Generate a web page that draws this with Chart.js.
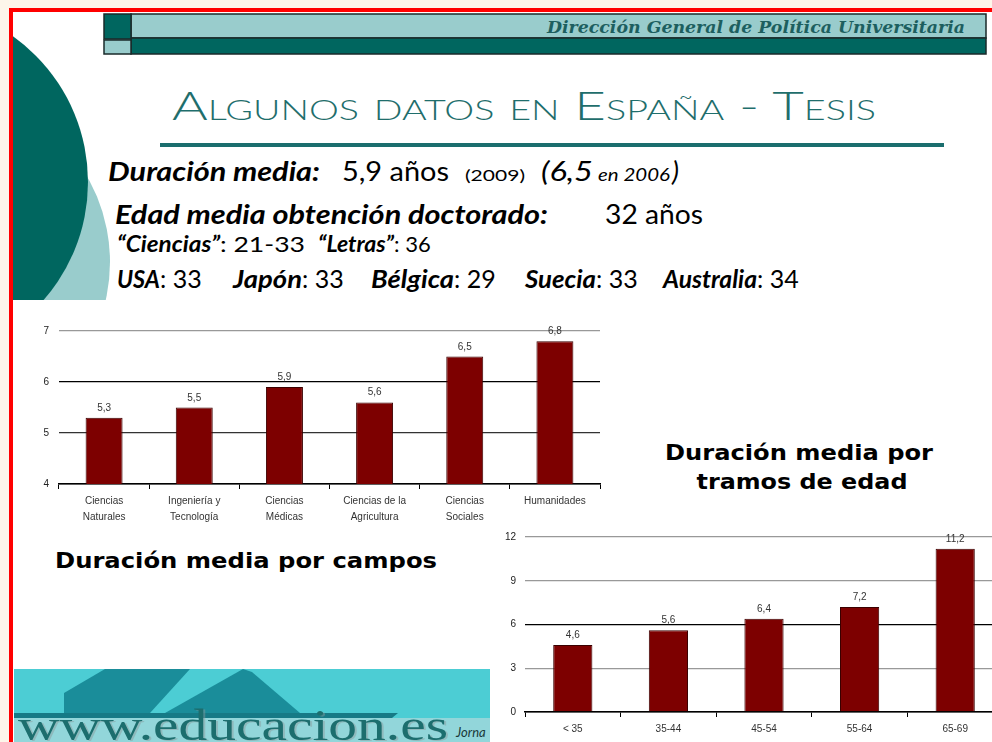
<!DOCTYPE html>
<html>
<head>
<meta charset="utf-8">
<script src="https://cdn.jsdelivr.net/npm/chart.js@4.4.0/dist/chart.umd.min.js"></script>
<style>
  html, body { margin: 0; padding: 0; width: 992px; height: 742px; overflow: hidden; background: #fdf6ea; }
  #slide { position: absolute; left: 9px; top: 8px; width: 1100px; height: 900px; border: 4px solid #ff0000; background: #fff; box-sizing: border-box; }
  svg#deco { position: absolute; left: 0; top: 0; }
  canvas { position: absolute; }
  #graficoCampos { left: 20px; top: 315px; }
  #graficoTramos { left: 490px; top: 522px; }
</style>
</head>
<body>
<div id="slide"></div>

<svg id="deco" width="992" height="742" xmlns="http://www.w3.org/2000/svg">
  <defs>
    <clipPath id="recorteCirculos"><rect x="13" y="12" width="200" height="288"/></clipPath>
  </defs>
  <!-- circulos de la izquierda -->
  <g clip-path="url(#recorteCirculos)">
    <circle cx="-61" cy="262" r="171" fill="#99cccc"/>
    <circle cx="-91" cy="182" r="179" fill="#00665f"/>
  </g>

  <!-- cabecera -->
  <rect x="131" y="14" width="855" height="24" fill="#99cccc" stroke="#1a2a2a" stroke-width="1.5"/>
  <rect x="131" y="38" width="855" height="16" fill="#00665f" stroke="#1a2a2a" stroke-width="1.5"/>
  <rect x="104" y="14" width="27" height="25" fill="#00665f" stroke="#1a2a2a" stroke-width="1.5"/>
  <rect x="104" y="40" width="27" height="14" fill="#99cccc" stroke="#1a2a2a" stroke-width="1.5"/>
  <text x="547" y="33" font-family="DejaVu Serif" font-weight="bold" font-style="italic" font-size="16" fill="#1d5f5f" textLength="418" lengthAdjust="spacingAndGlyphs">Dirección General de Política Universitaria</text>

  <!-- titulo -->
  <text x="172" y="120" font-family="Lato" font-weight="300" font-size="39" fill="#1f6e6c" style="font-variant: small-caps" textLength="704" lengthAdjust="spacingAndGlyphs">Algunos datos en España - Tesis</text>
  <rect x="160" y="143" width="784" height="4" fill="#1b6e6e"/>

  <!-- textos -->
  <g font-family="Lato" fill="#000">
    <text x="108" y="181" font-size="27" font-weight="bold" font-style="italic" textLength="212" lengthAdjust="spacingAndGlyphs">Duración media:</text>
    <text x="342" y="181" font-size="27" textLength="107" lengthAdjust="spacingAndGlyphs">5,9 años</text>
    <text x="465" y="181" font-size="16" textLength="60" lengthAdjust="spacingAndGlyphs">(2009)</text>
    <text x="541" y="181" font-size="27" font-style="italic" textLength="52" lengthAdjust="spacingAndGlyphs">(6,5</text>
    <text x="598" y="181" font-size="17" font-style="italic" textLength="72" lengthAdjust="spacingAndGlyphs">en 2006</text>
    <text x="672" y="181" font-size="27" font-style="italic">)</text>

    <text x="115" y="224" font-size="27" font-weight="bold" font-style="italic" textLength="433" lengthAdjust="spacingAndGlyphs">Edad media obtención doctorado:</text>
    <text x="605" y="224" font-size="27" textLength="98" lengthAdjust="spacingAndGlyphs">32 años</text>

    <text x="117" y="252" font-size="22" font-weight="bold" font-style="italic" textLength="103" lengthAdjust="spacingAndGlyphs">“Ciencias”</text>
    <text x="220" y="252" font-size="22" textLength="85" lengthAdjust="spacingAndGlyphs">: 21-33</text>
    <text x="318" y="252" font-size="22" font-weight="bold" font-style="italic" textLength="76" lengthAdjust="spacingAndGlyphs">“Letras”</text>
    <text x="394" y="252" font-size="22">: 36</text>

    <text x="117" y="288" font-size="25" font-weight="bold" font-style="italic" textLength="43" lengthAdjust="spacingAndGlyphs">USA</text>
    <text x="160" y="288" font-size="25">: 33</text>
    <text x="233" y="288" font-size="25" font-weight="bold" font-style="italic" textLength="69" lengthAdjust="spacingAndGlyphs">Japón</text>
    <text x="302" y="288" font-size="25">: 33</text>
    <text x="371" y="288" font-size="25" font-weight="bold" font-style="italic" textLength="83" lengthAdjust="spacingAndGlyphs">Bélgica</text>
    <text x="454" y="288" font-size="25">: 29</text>
    <text x="525" y="288" font-size="25" font-weight="bold" font-style="italic" textLength="71" lengthAdjust="spacingAndGlyphs">Suecia</text>
    <text x="596" y="288" font-size="25">: 33</text>
    <text x="663" y="288" font-size="25" font-weight="bold" font-style="italic" textLength="94" lengthAdjust="spacingAndGlyphs">Australia</text>
    <text x="757" y="288" font-size="25">: 34</text>
  </g>

  <!-- titulos de los graficos -->
  <g font-family="DejaVu Sans" font-weight="bold" font-size="21" fill="#000">
    <text x="55" y="568" textLength="382" lengthAdjust="spacingAndGlyphs">Duración media por campos</text>
    <text x="799" y="460" text-anchor="middle" textLength="268" lengthAdjust="spacingAndGlyphs">Duración media por</text>
    <text x="802" y="489" text-anchor="middle" textLength="211" lengthAdjust="spacingAndGlyphs">tramos de edad</text>
  </g>

  <!-- banner inferior -->
  <rect x="14" y="669" width="476" height="73" fill="#4ccdd4"/>
  <polygon points="64,693 105,669 190,669 150,713 64,713" fill="#1a8d9a"/>
  <polygon points="165,713 243,669 252,672 300,713" fill="#1a8d9a"/>
  <polygon points="14,713 398,713 392,718 14,718" fill="#167a86"/>
  <rect x="14" y="718" width="476" height="24" fill="#92d6da"/>
  <text x="20" y="741" font-family="Liberation Serif" font-size="44" fill="#8a9a9a" opacity="0.45" textLength="430" lengthAdjust="spacingAndGlyphs">www.educacion.es</text>
  <text x="18" y="740" font-family="Liberation Serif" font-size="44" fill="#1c6e6e" textLength="430" lengthAdjust="spacingAndGlyphs">www.educacion.es</text>
  <text x="456" y="737" font-family="Lato" font-style="italic" font-size="13" fill="#1a3a3a">Jorna</text>
</svg>

<canvas id="graficoCampos" width="590" height="215"></canvas>
<canvas id="graficoTramos" width="530" height="220"></canvas>

<script>
// Duracion media por campos
const campos = [['Ciencias', 'Naturales'], ['Ingeniería y', 'Tecnología'], ['Ciencias', 'Médicas'],
                ['Ciencias de la', 'Agricultura'], ['Ciencias', 'Sociales'], ['Humanidades']];
const duracionCampos = [5.3, 5.5, 5.9, 5.6, 6.5, 6.8];
const ejeCampos = [4, 7, 1];   // min, max, paso

// Duracion media por tramos de edad
const tramos = ['< 35', '35-44', '45-54', '55-64', '65-69'];
const duracionTramos = [4.6, 5.6, 6.4, 7.2, 11.2];
const ejeTramos = [0, 12, 3];

const colorBarra = '#7d0000';
const fuenteChica = { family: 'Liberation Sans', size: 10 };

// Plugin que escribe el valor encima de cada barra
const etiquetasValor = {
    id: 'etiquetasValor',
    afterDatasetsDraw: function(chart){
        const ctx = chart.ctx;
        ctx.save();
        ctx.font = '10px "Liberation Sans"';
        ctx.fillStyle = '#333';
        ctx.textAlign = 'center';
        ctx.textBaseline = 'alphabetic';
        chart.getDatasetMeta(0).data.forEach((barra, i) => {
            let valor = chart.data.datasets[0].data[i];
            ctx.fillText(String(valor).replace('.', ','), barra.x, barra.y - 7);
        });
        ctx.restore();
    }
};

function crearGrafico(id, etiquetas, valores, eje, colores, anchoY, altoX, relleno, padY){
    return new Chart(id, {
        type: 'bar',
        data: {
            labels: etiquetas,
            datasets: [{
                data: valores,
                backgroundColor: colorBarra,
                borderColor: '#3a0000',
                borderWidth: 1,
                barPercentage: 0.41,
                categoryPercentage: 1
            }]
        },
        options: {
            responsive: false,
            animation: false,
            layout: { padding: relleno },
            plugins: { legend: { display: false }, tooltip: { enabled: false } },
            scales: {
                x: {
                    grid: { offset: true, drawOnChartArea: false, drawTicks: true, tickLength: 5, color: '#000', lineWidth: 1 },
                    border: { display: true, color: '#000', width: 1.5 },
                    ticks: { font: { family: 'Liberation Sans', size: 10, lineHeight: 1.6 }, color: '#333', padding: 4, maxRotation: 0, autoSkip: false },
                    afterFit: function(escala){ escala.height = altoX; }
                },
                y: {
                    min: eje[0],
                    max: eje[1],
                    ticks: { stepSize: eje[2], font: fuenteChica, color: '#222', padding: padY },
                    grid: {
                        drawTicks: false,
                        lineWidth: 1.3,
                        color: function(c){ return colores[c.tick.value] || '#999'; }
                    },
                    border: { display: false },
                    afterFit: function(escala){ escala.width = anchoY; }
                }
            }
        },
        plugins: [etiquetasValor]
    });
}

crearGrafico('graficoCampos', campos, duracionCampos, ejeCampos,
    { 4: '#000', 5: '#333', 6: '#000', 7: '#999' }, 39, 46, { top: 9, right: 10, left: 0, bottom: 0 }, 10);

crearGrafico('graficoTramos', tramos, duracionTramos, ejeTramos,
    { 0: '#000', 3: '#999', 6: '#000', 9: '#999', 12: '#999' }, 35, 30, { top: 15, right: 17, left: 0, bottom: 0 }, 9);
</script>
</body>
</html>
